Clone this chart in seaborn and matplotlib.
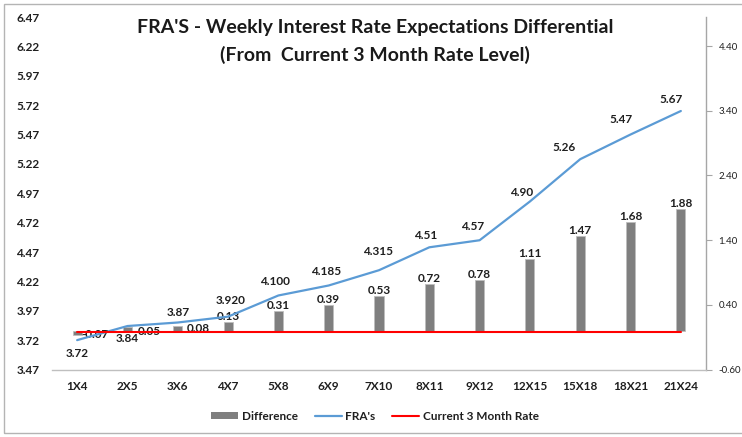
import matplotlib
matplotlib.use("Agg")
import matplotlib.pyplot as plt
from matplotlib.patches import Patch, Rectangle
from matplotlib.lines import Line2D
import seaborn as sns
import pandas as pd

# chart data
tenors = ['1X4', '2X5', '3X6', '4X7', '5X8', '6X9', '7X10', '8X11', '9X12',
          '12X15', '15X18', '18X21', '21X24']
fras = [3.72, 3.84, 3.87, 3.92, 4.10, 4.185, 4.315, 4.51, 4.57, 4.90, 5.26, 5.47, 5.67]
fra_labels = ['3.72', '3.84', '3.87', '3.920', '4.100', '4.185', '4.315', '4.51',
              '4.57', '4.90', '5.26', '5.47', '5.67']
difference = [-0.07, 0.05, 0.08, 0.13, 0.31, 0.39, 0.53, 0.72, 0.78, 1.11, 1.47, 1.68, 1.88]
current_rate = 3.79
left_ticks = [3.47, 3.72, 3.97, 4.22, 4.47, 4.72, 4.97, 5.22, 5.47, 5.72, 5.97, 6.22, 6.47]
right_ticks = [-0.60, 0.40, 1.40, 2.40, 3.40, 4.40]

# label nudges in pixels (dx, dy), as placed in the original chart
fra_offsets = [(0, -13), (0, -12.5), (0, 10), (3, 16.5), (-3, 14), (-3, 14), (-1, 19),
               (-4, 12), (-7, 14), (-8, 9), (-16, 12), (-10, 15), (-10, 12)]
diff_offsets = [(18, 1), (22, -4.5), (21, -3)] + [(0, 5.5)] * 10

df = pd.DataFrame({'tenor': tenors, 'fra': fras, 'diff': difference,
                   'current': [current_rate] * len(tenors)})

sns.set_theme(style='white')
plt.rcParams['font.family'] = ['Lato', 'DejaVu Sans']

W, H = 742, 437
fig = plt.figure(figsize=(W / 100, H / 100), dpi=100)
ax = fig.add_axes([52 / W, (H - 369.5) / H, (706 - 52) / W, 352.5 / H])
ax2 = ax.twinx()
px = 0.72  # pixels -> points at 100 dpi
txt_col = '#1f1f1f'

# bars on the secondary (right) axis
sns.barplot(data=df, x='tenor', y='diff', ax=ax2, color='#7f7f7f', saturation=1,
            width=0.18, edgecolor='#bdbdbd', linewidth=0.6)
# lines on the primary (left) axis
sns.lineplot(data=df, x='tenor', y='fra', ax=ax, color='#5b9bd5', linewidth=1.6, sort=False)
sns.lineplot(data=df, x='tenor', y='current', ax=ax, color='#ff0000', linewidth=1.5, sort=False)

ax.set_zorder(ax2.get_zorder() + 1)
ax.patch.set_visible(False)

ax.set_xlim(-0.5, len(tenors) - 0.5)
ax.set_ylim(3.47, 6.47)
ax2.set_ylim(-0.60, 4.85)

for i, (v, lab) in enumerate(zip(fras, fra_labels)):
    dx, dy = fra_offsets[i]
    ax.annotate(lab, (i, v), xytext=(dx * px, dy * px), textcoords='offset points',
                ha='center', va='center', fontsize=8.5, fontweight='bold', color=txt_col)
for i, v in enumerate(difference):
    dx, dy = diff_offsets[i]
    ax2.annotate(f'{v:.2f}', (i, v), xytext=(dx * px, dy * px), textcoords='offset points',
                 ha='center', va='center', fontsize=8.5, fontweight='bold', color=txt_col,
                 zorder=5)

# left axis
ax.set_yticks(left_ticks)
ax.set_yticklabels([f'{t:.2f}' for t in left_ticks], fontsize=8.5, fontweight='bold',
                   color=txt_col)
ax.tick_params(axis='y', length=0, pad=9)
ax.tick_params(axis='x', length=0, pad=8)
ax.set_xticks(range(len(tenors)))
ax.set_xticklabels(tenors, fontsize=8.5, fontweight='bold', color=txt_col)
ax.set_xlabel('')
ax.set_ylabel('')

# right axis
ax2.set_yticks(right_ticks)
ax2.set_yticklabels([f'{t:.2f}' for t in right_ticks], fontsize=7, color=txt_col)
ax2.tick_params(axis='y', length=4, width=0.8, color='#a6a6a6', pad=5, direction='out')
ax2.set_xlabel('')
ax2.set_ylabel('')

for a in (ax, ax2):
    for s in a.spines.values():
        s.set_visible(False)
ax.spines['bottom'].set_visible(True)
ax.spines['bottom'].set_color('#bfbfbf')
ax.spines['bottom'].set_linewidth(1.0)
ax2.spines['right'].set_visible(True)
ax2.spines['right'].set_color('#a6a6a6')
ax2.spines['right'].set_linewidth(1.0)
ax.grid(False)
ax2.grid(False)

# title
fig.text(375 / W, 1 - 28 / H, "FRA'S - Weekly Interest Rate Expectations Differential",
         ha='center', va='center', fontsize=14, fontweight='bold', color='#1a1a1a')
fig.text(375 / W, 1 - 55 / H, "(From  Current 3 Month Rate Level)",
         ha='center', va='center', fontsize=14, fontweight='bold', color='#1a1a1a')

# legend
handles = [Patch(facecolor='#7f7f7f', edgecolor='none'),
           Line2D([], [], color='#5b9bd5', linewidth=1.6),
           Line2D([], [], color='#ff0000', linewidth=1.5)]
fig.legend(handles, ['Difference', "FRA's", 'Current 3 Month Rate'], ncol=3,
           loc='center', bbox_to_anchor=(375 / W, 1 - 416 / H), frameon=False,
           prop={'size': 8.5, 'weight': 'bold'}, handlelength=2.3, handleheight=0.55,
           handletextpad=0.3, columnspacing=1.4, labelcolor=txt_col)

# chart border
fig.patches.append(Rectangle((4 / W, 4 / H), (W + 10) / W, (H - 8) / H,
                             transform=fig.transFigure, fill=False,
                             edgecolor='#b4b4b4', linewidth=1.0))

fig.savefig('out.png', dpi=100, facecolor='white')
